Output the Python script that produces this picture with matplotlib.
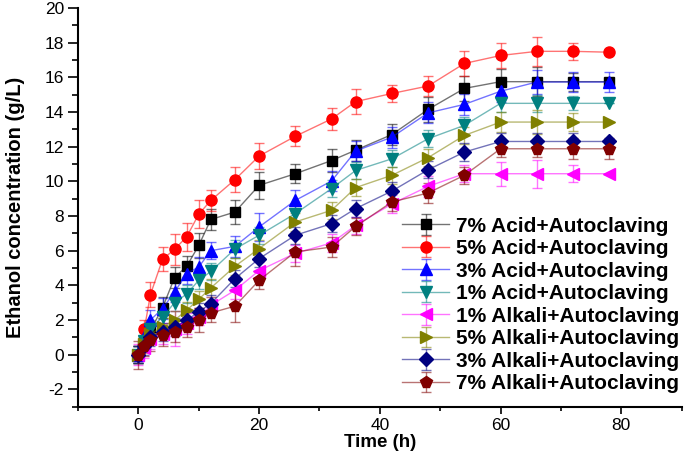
import matplotlib
matplotlib.use("Agg")
import matplotlib.pyplot as plt
from matplotlib.ticker import MultipleLocator
from matplotlib.colors import to_rgba

plt.rcParams['font.family'] = ['Liberation Sans', 'DejaVu Sans']
plt.rcParams['axes.unicode_minus'] = False

time = [0, 1, 2, 4, 6, 8, 10, 12, 16, 20, 26, 32, 36, 42, 48, 54, 60, 66, 72, 78]

labels = ["7% Acid+Autoclaving", "5% Acid+Autoclaving", "3% Acid+Autoclaving",
          "1% Acid+Autoclaving", "1% Alkali+Autoclaving", "5% Alkali+Autoclaving",
          "3% Alkali+Autoclaving", "7% Alkali+Autoclaving"]

acid7 = [0, 0.8, 1.4, 2.7, 4.45, 5.1, 6.3, 7.8, 8.23, 9.77, 10.44, 11.2, 11.8, 12.7, 14.15, 15.36, 15.75, 15.75, 15.75, 15.75]
acid5 = [0, 1.5, 3.47, 5.5, 6.08, 6.8, 8.1, 8.9, 10.1, 11.46, 12.6, 13.6, 14.6, 15.07, 15.5, 16.8, 17.26, 17.5, 17.5, 17.45]
acid3 = [0, 1.0, 2.0, 2.66, 3.62, 4.68, 5.06, 6.0, 6.25, 7.37, 8.9, 10.02, 11.75, 12.55, 13.95, 14.44, 15.2, 15.73, 15.73, 15.73]
acid1 = [0, 0.8, 1.5, 2.18, 3.0, 3.5, 4.29, 4.8, 6.1, 6.89, 8.14, 9.58, 10.63, 11.3, 12.46, 13.23, 14.5, 14.5, 14.5, 14.5]
alk1 = [0, 0.4, 0.9, 1.2, 1.5, 1.8, 2.2, 2.85, 3.72, 4.85, 5.85, 6.45, 7.46, 8.7, 9.71, 10.44, 10.44, 10.44, 10.44, 10.44]
alk5 = [0, 0.6, 1.2, 1.6, 2.0, 2.56, 3.2, 3.85, 5.1, 6.12, 7.66, 8.33, 9.64, 10.35, 11.37, 12.65, 13.42, 13.42, 13.42, 13.42]
alk3 = [0, 0.5, 1.0, 1.3, 1.6, 1.99, 2.47, 2.95, 4.39, 5.54, 6.89, 7.56, 8.43, 9.44, 10.67, 11.69, 12.3, 12.3, 12.3, 12.3]
alk7 = [0, 0.5, 0.84, 1.12, 1.32, 1.6, 1.99, 2.41, 2.8, 4.29, 5.93, 6.21, 7.4, 8.81, 9.33, 10.35, 11.88, 11.88, 11.88, 11.88]

err_acid7 = [0.5, 0.5, 0.5, 0.6, 0.6, 0.6, 0.7, 0.6, 0.7, 0.77, 0.55, 0.65, 0.6, 0.6, 0.7, 0.7, 0.74, 0.82, 0.52, 0.0]
err_acid5 = [0.5, 0.5, 0.7, 0.7, 0.9, 0.8, 0.8, 0.6, 0.72, 0.77, 0.57, 0.64, 0.7, 0.5, 0.6, 0.7, 0.74, 0.82, 0.5, 0.0]
err_acid3 = [0.5, 0.5, 0.6, 0.6, 0.6, 0.6, 0.6, 0.5, 0.6, 0.8, 0.6, 0.6, 0.6, 0.6, 0.6, 0.6, 0.6, 0.7, 0.6, 0.57]
err_acid1 = [0.5, 0.5, 0.5, 0.5, 0.5, 0.5, 0.5, 0.5, 0.5, 0.5, 0.5, 0.5, 0.5, 0.5, 0.5, 0.5, 0.5, 0.5, 0.4, 0.0]
err_alk1 = [0.6, 0.6, 0.6, 0.6, 1.0, 0.6, 0.5, 0.5, 0.5, 0.5, 0.5, 0.5, 0.5, 0.5, 0.6, 0.5, 0.7, 0.8, 0.5, 0.0]
err_alk5 = [0.5, 0.5, 0.5, 0.5, 0.5, 0.5, 0.5, 0.5, 0.5, 0.5, 0.5, 0.5, 0.5, 0.5, 0.5, 0.5, 0.6, 0.7, 0.5, 0.0]
err_alk3 = [0.5, 0.5, 0.5, 0.5, 0.5, 0.5, 0.5, 0.5, 0.5, 0.5, 0.5, 0.5, 0.5, 0.5, 0.5, 0.5, 0.5, 0.5, 0.5, 0.0]
err_alk7 = [0.8, 0.6, 0.6, 0.6, 0.6, 0.6, 0.7, 0.5, 0.9, 0.5, 0.8, 0.6, 0.5, 0.5, 0.6, 0.5, 0.5, 0.5, 0.6, 0.6]

series = [acid7, acid5, acid3, acid1, alk1, alk5, alk3, alk7]
errors = [err_acid7, err_acid5, err_acid3, err_acid1, err_alk1, err_alk5, err_alk3, err_alk7]
colors = ["#000000", "#ff0000", "#0000ff", "#008080", "#ff00ff", "#808000", "#000080", "#800000"]
markers = ["s", "o", "^", "v", "<", ">", "D", "p"]
msizes = [7.5, 8, 8.5, 8.5, 8.5, 8.5, 7, 8.5]

fig = plt.figure(figsize=(6.85, 4.53), dpi=100)
ax = fig.add_axes([78/685, (453-406.7)/453, (681.7-78)/685, (406.7-8)/453])

for y, e, c, m, ms, lab in zip(series, errors, colors, markers, msizes, labels):
    lc = to_rgba(c, 0.55)
    ax.errorbar(time, y, yerr=e, color=lc, ecolor=to_rgba(c, 0.55), elinewidth=1.0,
                capsize=3.5, capthick=1.0, lw=1.0, marker=m, ms=ms,
                mfc=c, mec=c, label=lab)

ax.set_xlim(-10, 90)
ax.set_ylim(-3, 20)
ax.spines['top'].set_visible(False)
ax.spines['right'].set_visible(False)
ax.spines['left'].set_linewidth(1.5)
ax.spines['bottom'].set_linewidth(1.5)
ax.xaxis.set_major_locator(MultipleLocator(20))
ax.xaxis.set_minor_locator(MultipleLocator(10))
ax.yaxis.set_major_locator(MultipleLocator(2))
ax.yaxis.set_minor_locator(MultipleLocator(1))
ax.tick_params(axis='y', which='major', length=7, width=1.2, labelsize=12.5, pad=3)
ax.tick_params(axis='y', which='minor', length=4, width=1.2)
ax.tick_params(axis='x', which='major', length=5, width=1.2, labelsize=12.5, pad=3)
ax.tick_params(axis='x', which='minor', length=3, width=1.2)

ax.set_xlabel("Time (h)", fontsize=13.5, fontweight='bold', labelpad=0.5)
ax.set_ylabel("Ethanol concentration (g/L)", fontsize=14.5, fontweight='bold', labelpad=14)

leg = ax.legend(loc='upper left', bbox_to_anchor=(0.536, 0.477), frameon=False,
                prop={'weight': 'bold', 'size': 15}, handlelength=2.3,
                handletextpad=0.33, labelspacing=0.17, borderpad=0, borderaxespad=0)

fig.savefig("out.png", dpi=100)
